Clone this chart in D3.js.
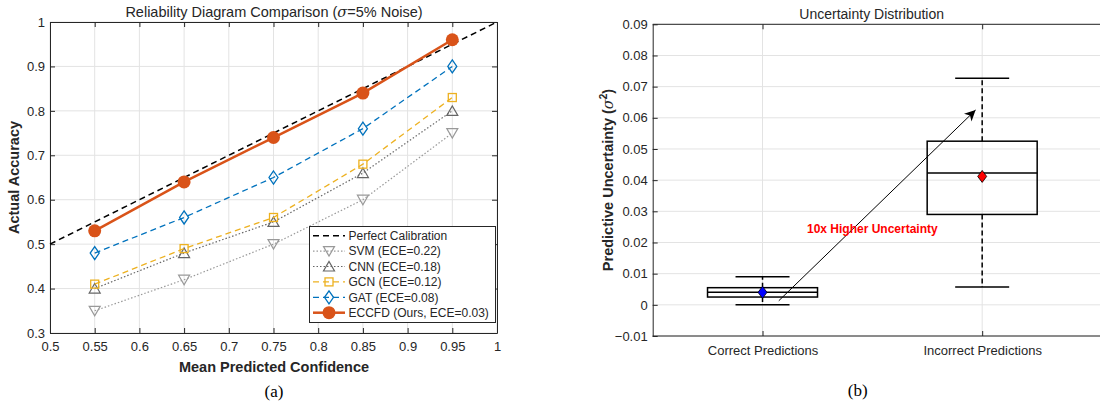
<!DOCTYPE html>
<html>
<head>
<meta charset="utf-8">
<script src="https://cdn.jsdelivr.net/npm/d3@7"></script>
<style>
  body { margin: 0; background: #fff; }
</style>
</head>
<body>
<div id="chart"></div>
<script>
// ---- data: reliability diagram (a)
const confidence = [0.55, 0.65, 0.75, 0.85, 0.95];
const svmAcc = [0.35, 0.42, 0.50, 0.60, 0.75];
const cnnAcc = [0.40, 0.48, 0.55, 0.66, 0.80];
const gcnAcc = [0.41, 0.49, 0.56, 0.68, 0.83];
const gatAcc = [0.48, 0.56, 0.65, 0.76, 0.90];
const eccfdAcc = [0.53, 0.64, 0.74, 0.84, 0.96];
const perfectLine = [0.5, 1];
const xTicksA = [0.5, 0.55, 0.6, 0.65, 0.7, 0.75, 0.8, 0.85, 0.9, 0.95, 1];
const yTicksA = [0.3, 0.4, 0.5, 0.6, 0.7, 0.8, 0.9, 1];
const legendLabels = ["Perfect Calibration", "SVM (ECE=0.22)", "CNN (ECE=0.18)",
  "GCN (ECE=0.12)", "GAT (ECE=0.08)", "ECCFD (Ours, ECE=0.03)"];

// ---- data: uncertainty box plot (b)
const groups = ["Correct Predictions", "Incorrect Predictions"];
const whiskerLow = [0.0, 0.0057];
const q1 = [0.0025, 0.029];
const median = [0.0040, 0.0423];
const q3 = [0.0055, 0.0525];
const whiskerHigh = [0.009, 0.0727];
const means = [0.0040, 0.0412];
const yTicksB = [-0.01, 0, 0.01, 0.02, 0.03, 0.04, 0.05, 0.06, 0.07, 0.08, 0.09];
const arrowFrom = [1.074, 0.0013];
const arrowTo = [1.97, 0.0625];
const noteAt = [1.5, 0.0245];

const width = 1100, height = 406;
const axisColor = "#262626", gridColor = "#e3e3e3";
const sans = "Liberation Sans, Arial, sans-serif";
const serif = "Liberation Serif, Times New Roman, serif";

const svg = d3.select("#chart").append("svg")
  .attr("width", width).attr("height", height)
  .attr("font-family", sans);

svg.append("defs").append("marker")
  .attr("id", "arrowhead").attr("viewBox", "0 0 10 10")
  .attr("refX", 10).attr("refY", 5)
  .attr("markerWidth", 11).attr("markerHeight", 11)
  .attr("markerUnits", "userSpaceOnUse")
  .attr("orient", "auto")
  .append("path").attr("d", "M0,0 L10,5 L0,10 L3,5 Z").attr("fill", "#000");

function styleAxes(g) {
  g.selectAll(".domain").attr("stroke", axisColor);
  g.selectAll(".tick line").attr("stroke", axisColor);
  g.selectAll(".tick text").attr("font-size", 13).attr("fill", axisColor)
    .attr("font-family", sans);
}

// ================= (a) =================
const xA = d3.scaleLinear().domain([0.5, 1]).range([50, 497]);
const yA = d3.scaleLinear().domain([0.3, 1]).range([333, 22]);
const gA = svg.append("g");

// grid
gA.selectAll(".vg").data(xTicksA).enter().append("line")
  .attr("x1", d => xA(d)).attr("x2", d => xA(d))
  .attr("y1", yA(0.3)).attr("y2", yA(1))
  .attr("stroke", gridColor);
gA.selectAll(".hg").data(yTicksA).enter().append("line")
  .attr("y1", d => yA(d)).attr("y2", d => yA(d))
  .attr("x1", xA(0.5)).attr("x2", xA(1))
  .attr("stroke", gridColor);

// axes (inward ticks, box on)
gA.append("g").attr("transform", `translate(0,${yA(0.3)})`)
  .call(d3.axisBottom(xA).tickValues(xTicksA).tickFormat(d3.format("~g")).tickSizeInner(-5).tickSizeOuter(0).tickPadding(9));
gA.append("g").attr("transform", `translate(0,${yA(1)})`)
  .call(d3.axisTop(xA).tickValues(xTicksA).tickFormat("").tickSizeInner(-5).tickSizeOuter(0));
gA.append("g").attr("transform", `translate(${xA(0.5)},0)`)
  .call(d3.axisLeft(yA).tickValues(yTicksA).tickFormat(d3.format("~g")).tickSizeInner(-5).tickSizeOuter(0).tickPadding(5));
gA.append("g").attr("transform", `translate(${xA(1)},0)`)
  .call(d3.axisRight(yA).tickValues(yTicksA).tickFormat("").tickSizeInner(-5).tickSizeOuter(0));
styleAxes(gA);

// series definitions
const series = [
  { name: legendLabels[1], vals: svmAcc, color: "#999999", dash: "1.5,2", width: 1.2, marker: "tri-down" },
  { name: legendLabels[2], vals: cnnAcc, color: "#666666", dash: "1.5,2", width: 1.2, marker: "tri-up" },
  { name: legendLabels[3], vals: gcnAcc, color: "#EDB120", dash: "6,4", width: 1.3, marker: "square" },
  { name: legendLabels[4], vals: gatAcc, color: "#0072BD", dash: "6,4", width: 1.3, marker: "diamond" },
  { name: legendLabels[5], vals: eccfdAcc, color: "#D95319", dash: null, width: 2.5, marker: "circle" }
];

function drawMarker(g, type, x, y, color) {
  if (type === "circle") {
    g.append("circle").attr("cx", x).attr("cy", y).attr("r", 6.5).attr("fill", color);
  } else if (type === "tri-down") {
    g.append("path").attr("d", `M${x - 5.5},${y - 4.5} L${x + 5.5},${y - 4.5} L${x},${y + 5} Z`)
      .attr("fill", "none").attr("stroke", color).attr("stroke-width", 1.2);
  } else if (type === "tri-up") {
    g.append("path").attr("d", `M${x - 5.5},${y + 4.5} L${x + 5.5},${y + 4.5} L${x},${y - 5} Z`)
      .attr("fill", "none").attr("stroke", color).attr("stroke-width", 1.2);
  } else if (type === "square") {
    g.append("rect").attr("x", x - 4).attr("y", y - 4).attr("width", 8).attr("height", 8)
      .attr("fill", "none").attr("stroke", color).attr("stroke-width", 1.3);
  } else if (type === "diamond") {
    g.append("path").attr("d", `M${x},${y - 6.5} L${x + 4.5},${y} L${x},${y + 6.5} L${x - 4.5},${y} Z`)
      .attr("fill", "none").attr("stroke", color).attr("stroke-width", 1.3);
  }
}

// perfect calibration
const line = d3.line().x(d => xA(d[0])).y(d => yA(d[1]));
gA.append("path").datum(perfectLine.map(v => [v, v]))
  .attr("d", line).attr("fill", "none").attr("stroke", "#000")
  .attr("stroke-width", 1.5).attr("stroke-dasharray", "6,4");

series.forEach(s => {
  const pts = confidence.map((c, i) => [c, s.vals[i]]);
  gA.append("path").datum(pts).attr("d", line).attr("fill", "none")
    .attr("stroke", s.color).attr("stroke-width", s.width)
    .attr("stroke-dasharray", s.dash);
  pts.forEach(p => drawMarker(gA, s.marker, xA(p[0]), yA(p[1]), s.color));
});

// legend
const leg = gA.append("g");
leg.append("rect").attr("x", 309.5).attr("y", 226.5).attr("width", 186).attr("height", 96)
  .attr("fill", "#fff").attr("stroke", axisColor).attr("stroke-width", 1);
const legItems = [{ name: legendLabels[0], color: "#000", dash: "6,4", width: 1.5, marker: null }].concat(series);
legItems.forEach((s, i) => {
  const y = 235.7 + i * 15.4;
  leg.append("line").attr("x1", 313).attr("x2", 345).attr("y1", y).attr("y2", y)
    .attr("stroke", s.color).attr("stroke-width", s.width).attr("stroke-dasharray", s.dash);
  if (s.marker) drawMarker(leg, s.marker, 329, y, s.color);
  leg.append("text").attr("x", 348.5).attr("y", y).attr("dy", "0.35em")
    .attr("font-size", 12).attr("fill", axisColor).text(s.name);
});

// titles
const titleA = gA.append("text").attr("x", 274).attr("y", 17).attr("text-anchor", "middle")
  .attr("font-size", 14.5).attr("fill", axisColor);
titleA.append("tspan").text("Reliability Diagram Comparison (");
titleA.append("tspan").attr("font-style", "italic").attr("font-family", "DejaVu Serif, serif").text("σ");
titleA.append("tspan").text("=5% Noise)");
gA.append("text").attr("x", 274).attr("y", 372).attr("text-anchor", "middle").attr("fill", axisColor)
  .attr("font-size", 14.5).attr("font-weight", "bold").text("Mean Predicted Confidence");
gA.append("text").attr("transform", `translate(19,${(yA(0.3) + yA(1)) / 2}) rotate(-90)`)
  .attr("text-anchor", "middle").attr("font-size", 14.5).attr("font-weight", "bold")
  .attr("fill", axisColor).text("Actual Accuracy");
gA.append("text").attr("x", 274).attr("y", 397).attr("text-anchor", "middle")
  .attr("font-family", serif).attr("font-size", 17)
  .attr("fill", "#000").text("(a)");

// ================= (b) =================
const xB = d3.scaleLinear().domain([0.5, 2.5]).range([652.7, 1092]);
const yB = d3.scaleLinear().domain([-0.01, 0.09]).range([336, 24.3]);
const gB = svg.append("g");
const xRight = 1101;

gB.selectAll(".vg").data([1, 2]).enter().append("line")
  .attr("x1", d => xB(d)).attr("x2", d => xB(d))
  .attr("y1", yB(-0.01)).attr("y2", yB(0.09)).attr("stroke", gridColor);
gB.selectAll(".hg").data(yTicksB).enter().append("line")
  .attr("y1", d => yB(d)).attr("y2", d => yB(d))
  .attr("x1", xB(0.5)).attr("x2", xRight).attr("stroke", gridColor);

const bottomB = gB.append("g").attr("transform", `translate(0,${yB(-0.01)})`)
  .call(d3.axisBottom(xB).tickValues([1, 2]).tickFormat((d, i) => groups[i]).tickSizeInner(-5).tickSizeOuter(0).tickPadding(10));
const topB = gB.append("g").attr("transform", `translate(0,${yB(0.09)})`)
  .call(d3.axisTop(xB).tickValues([1, 2]).tickFormat("").tickSizeInner(-5).tickSizeOuter(0));
[bottomB, topB].forEach(a => a.select(".domain").attr("d", `M${xB(0.5)},0H${xRight}`));
gB.append("g").attr("transform", `translate(${xB(0.5)},0)`)
  .call(d3.axisLeft(yB).tickValues(yTicksB).tickFormat(d3.format("~g")).tickSizeInner(-5).tickSizeOuter(0).tickPadding(5));
styleAxes(gB);

const boxW = 110, capW = 54;
groups.forEach((g, i) => {
  const cx = xB(i + 1);
  const b = gB.append("g");
  b.append("line").attr("x1", cx).attr("x2", cx).attr("y1", yB(q3[i])).attr("y2", yB(whiskerHigh[i]))
    .attr("stroke", "#000").attr("stroke-width", 1.5).attr("stroke-dasharray", "5,3");
  b.append("line").attr("x1", cx).attr("x2", cx).attr("y1", yB(q1[i])).attr("y2", yB(whiskerLow[i]))
    .attr("stroke", "#000").attr("stroke-width", 1.5).attr("stroke-dasharray", "5,3");
  [whiskerHigh[i], whiskerLow[i]].forEach(v => {
    b.append("line").attr("x1", cx - capW / 2).attr("x2", cx + capW / 2)
      .attr("y1", yB(v)).attr("y2", yB(v)).attr("stroke", "#000").attr("stroke-width", 1.5);
  });
  b.append("rect").attr("x", cx - boxW / 2).attr("width", boxW)
    .attr("y", yB(q3[i])).attr("height", yB(q1[i]) - yB(q3[i]))
    .attr("fill", "none").attr("stroke", "#000").attr("stroke-width", 1.5);
  b.append("line").attr("x1", cx - boxW / 2).attr("x2", cx + boxW / 2)
    .attr("y1", yB(median[i])).attr("y2", yB(median[i])).attr("stroke", "#000").attr("stroke-width", 1.5);
  const my = yB(means[i]);
  b.append("path").attr("d", `M${cx},${my - 6} L${cx + 4.5},${my} L${cx},${my + 6} L${cx - 4.5},${my} Z`)
    .attr("fill", i === 0 ? "#0000ff" : "#ff0000").attr("stroke", "#000").attr("stroke-width", 0.8);
});

// annotation arrow
gB.append("line").attr("x1", xB(arrowFrom[0])).attr("y1", yB(arrowFrom[1]))
  .attr("x2", xB(arrowTo[0])).attr("y2", yB(arrowTo[1]))
  .attr("stroke", "#000").attr("stroke-width", 1).attr("marker-end", "url(#arrowhead)");
gB.append("text").attr("x", xB(noteAt[0])).attr("y", yB(noteAt[1])).attr("dy", "0.35em")
  .attr("text-anchor", "middle").attr("font-size", 12).attr("font-weight", "bold")
  .attr("fill", "#ff0000").text("10x Higher Uncertainty");

gB.append("text").attr("x", 871.7).attr("y", 19).attr("text-anchor", "middle")
  .attr("font-size", 14).attr("fill", axisColor).text("Uncertainty Distribution");
const ylB = gB.append("text").attr("transform", `translate(613,180) rotate(-90)`)
  .attr("text-anchor", "middle").attr("font-size", 14.5).attr("font-weight", "bold").attr("fill", axisColor);
ylB.append("tspan").text("Predictive Uncertainty (");
ylB.append("tspan").attr("font-style", "italic").attr("font-family", "DejaVu Serif, serif").attr("font-weight", "normal").text("σ");
ylB.append("tspan").attr("font-size", 10).attr("dy", -6).text("2");
ylB.append("tspan").attr("dy", 6).text(")");
gB.append("text").attr("x", 857.7).attr("y", 396).attr("text-anchor", "middle")
  .attr("font-family", serif).attr("font-size", 17)
  .attr("fill", "#000").text("(b)");
</script>
</body>
</html>
